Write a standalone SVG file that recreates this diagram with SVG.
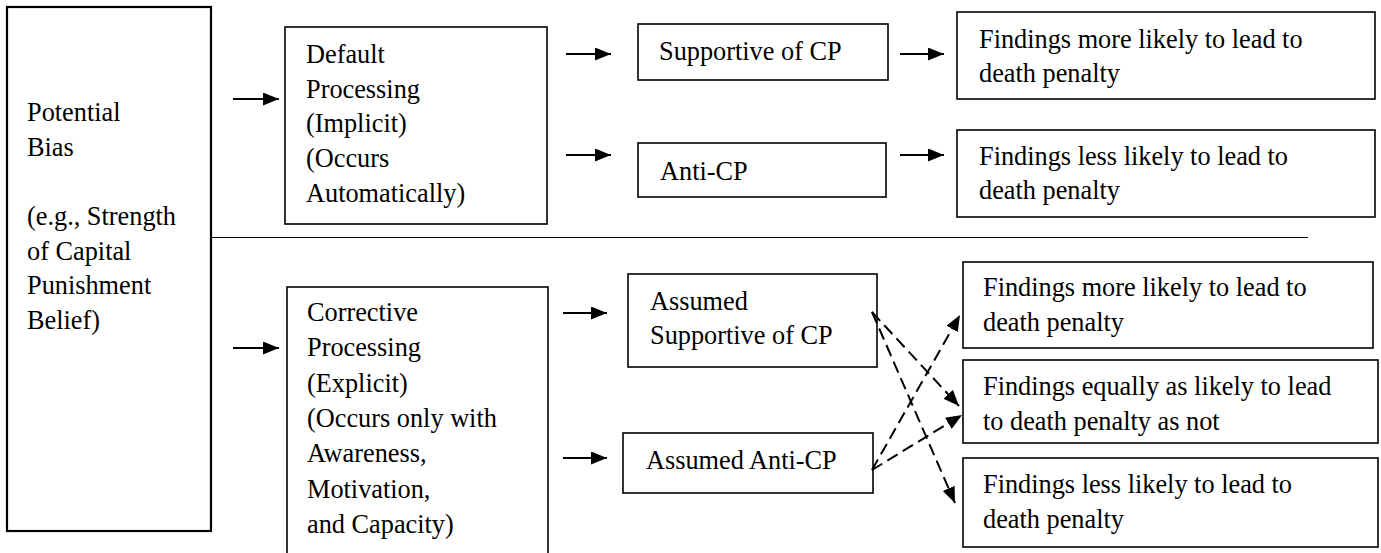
<svg xmlns="http://www.w3.org/2000/svg" width="1381" height="553" viewBox="0 0 1381 553">
  <style>
    .box { fill: #ffffff; stroke: #000000; stroke-width: 1.6; }
    .t { font-family: "Liberation Serif", "Times New Roman", serif; font-size: 26.3px; fill: #000000; }
    .arr { stroke: #000000; stroke-width: 2.2; fill: none; marker-end: url(#head); }
    .dash { stroke: #000000; stroke-width: 2; fill: none; stroke-dasharray: 12 6; marker-end: url(#head); }
    .sep { stroke: #000000; stroke-width: 1; }
  </style>
  <defs>
    <marker id="head" markerUnits="userSpaceOnUse" markerWidth="17" markerHeight="13" refX="16" refY="6.5" orient="auto">
      <path d="M0,0 L16,6.5 L0,13 z" fill="#000000"/>
    </marker>
    <clipPath id="clipB">
      <rect x="963" y="360" width="415" height="82"/>
    </clipPath>
  </defs>
  <rect width="1381" height="553" fill="#ffffff"/>

  <g id="potential-bias">
    <rect class="box" x="7" y="7" width="204" height="524" style="stroke-width:2.2"/>
    <text class="t" x="27" y="121">Potential</text>
    <text class="t" x="27" y="156">Bias</text>
    <text class="t" x="27" y="225">(e.g., Strength</text>
    <text class="t" x="27" y="260">of Capital</text>
    <text class="t" x="27" y="294">Punishment</text>
    <text class="t" x="27" y="329">Belief)</text>
  </g>

  <g id="separator">
    <line class="sep" x1="211" y1="237.5" x2="1308" y2="237.5"/>
  </g>

  <g id="default-processing">
    <rect class="box" x="285" y="27" width="262" height="197"/>
    <text class="t" x="306" y="63">Default</text>
    <text class="t" x="306" y="98">Processing</text>
    <text class="t" x="306" y="132">(Implicit)</text>
    <text class="t" x="306" y="167">(Occurs</text>
    <text class="t" x="306" y="202">Automatically)</text>
  </g>

  <g id="supportive">
    <rect class="box" x="638" y="24" width="250" height="56"/>
    <text class="t" x="659" y="60">Supportive of CP</text>
  </g>

  <g id="anti-cp">
    <rect class="box" x="638" y="143" width="248" height="54"/>
    <text class="t" x="660" y="180">Anti-CP</text>
  </g>

  <g id="findings-more-1">
    <rect class="box" x="957" y="12" width="418" height="87"/>
    <text class="t" x="979" y="48">Findings more likely to lead to</text>
    <text class="t" x="979" y="82">death penalty</text>
  </g>

  <g id="findings-less-1">
    <rect class="box" x="957" y="130" width="418" height="87"/>
    <text class="t" x="979" y="165">Findings less likely to lead to</text>
    <text class="t" x="979" y="199">death penalty</text>
  </g>

  <g id="corrective-processing">
    <rect class="box" x="287" y="287" width="261" height="280"/>
    <text class="t" x="307" y="321">Corrective</text>
    <text class="t" x="307" y="356">Processing</text>
    <text class="t" x="307" y="392">(Explicit)</text>
    <text class="t" x="307" y="427">(Occurs only with</text>
    <text class="t" x="307" y="462">Awareness,</text>
    <text class="t" x="307" y="498">Motivation,</text>
    <text class="t" x="307" y="533">and Capacity)</text>
  </g>

  <g id="assumed-supportive">
    <rect class="box" x="628" y="274" width="249" height="93"/>
    <text class="t" x="650" y="310">Assumed</text>
    <text class="t" x="650" y="344">Supportive of CP</text>
  </g>

  <g id="assumed-anti-cp">
    <rect class="box" x="623" y="433" width="250" height="60"/>
    <text class="t" x="646" y="469">Assumed Anti-CP</text>
  </g>

  <g id="findings-more-2">
    <rect class="box" x="963" y="262" width="410" height="86"/>
    <text class="t" x="983" y="296">Findings more likely to lead to</text>
    <text class="t" x="983" y="331">death penalty</text>
  </g>

  <g id="findings-equal">
    <rect class="box" x="963" y="360" width="415" height="83"/>
    <g clip-path="url(#clipB)">
      <text class="t" x="983" y="395">Findings equally as likely to lead</text>
      <text class="t" x="983" y="430">to death penalty as not</text>
    </g>
  </g>

  <g id="findings-less-2">
    <rect class="box" x="963" y="458" width="415" height="89"/>
    <text class="t" x="983" y="493">Findings less likely to lead to</text>
    <text class="t" x="983" y="528">death penalty</text>
  </g>

  <g id="connectors">
    <line class="arr" x1="233" y1="99" x2="279" y2="99"/>
    <line class="arr" x1="233" y1="348" x2="279" y2="348"/>
    <line class="arr" x1="566" y1="54" x2="611" y2="54"/>
    <line class="arr" x1="566" y1="155" x2="611" y2="155"/>
    <line class="arr" x1="900" y1="54" x2="944" y2="54"/>
    <line class="arr" x1="900" y1="155" x2="944" y2="155"/>
    <line class="arr" x1="563" y1="313" x2="607" y2="313"/>
    <line class="arr" x1="563" y1="458" x2="607" y2="458"/>
    <line class="dash" x1="872" y1="312" x2="959" y2="406"/>
    <line class="dash" x1="872" y1="312" x2="955" y2="503"/>
    <line class="dash" x1="872" y1="470" x2="960" y2="315"/>
    <line class="dash" x1="872" y1="470" x2="962" y2="415"/>
  </g>
</svg>
